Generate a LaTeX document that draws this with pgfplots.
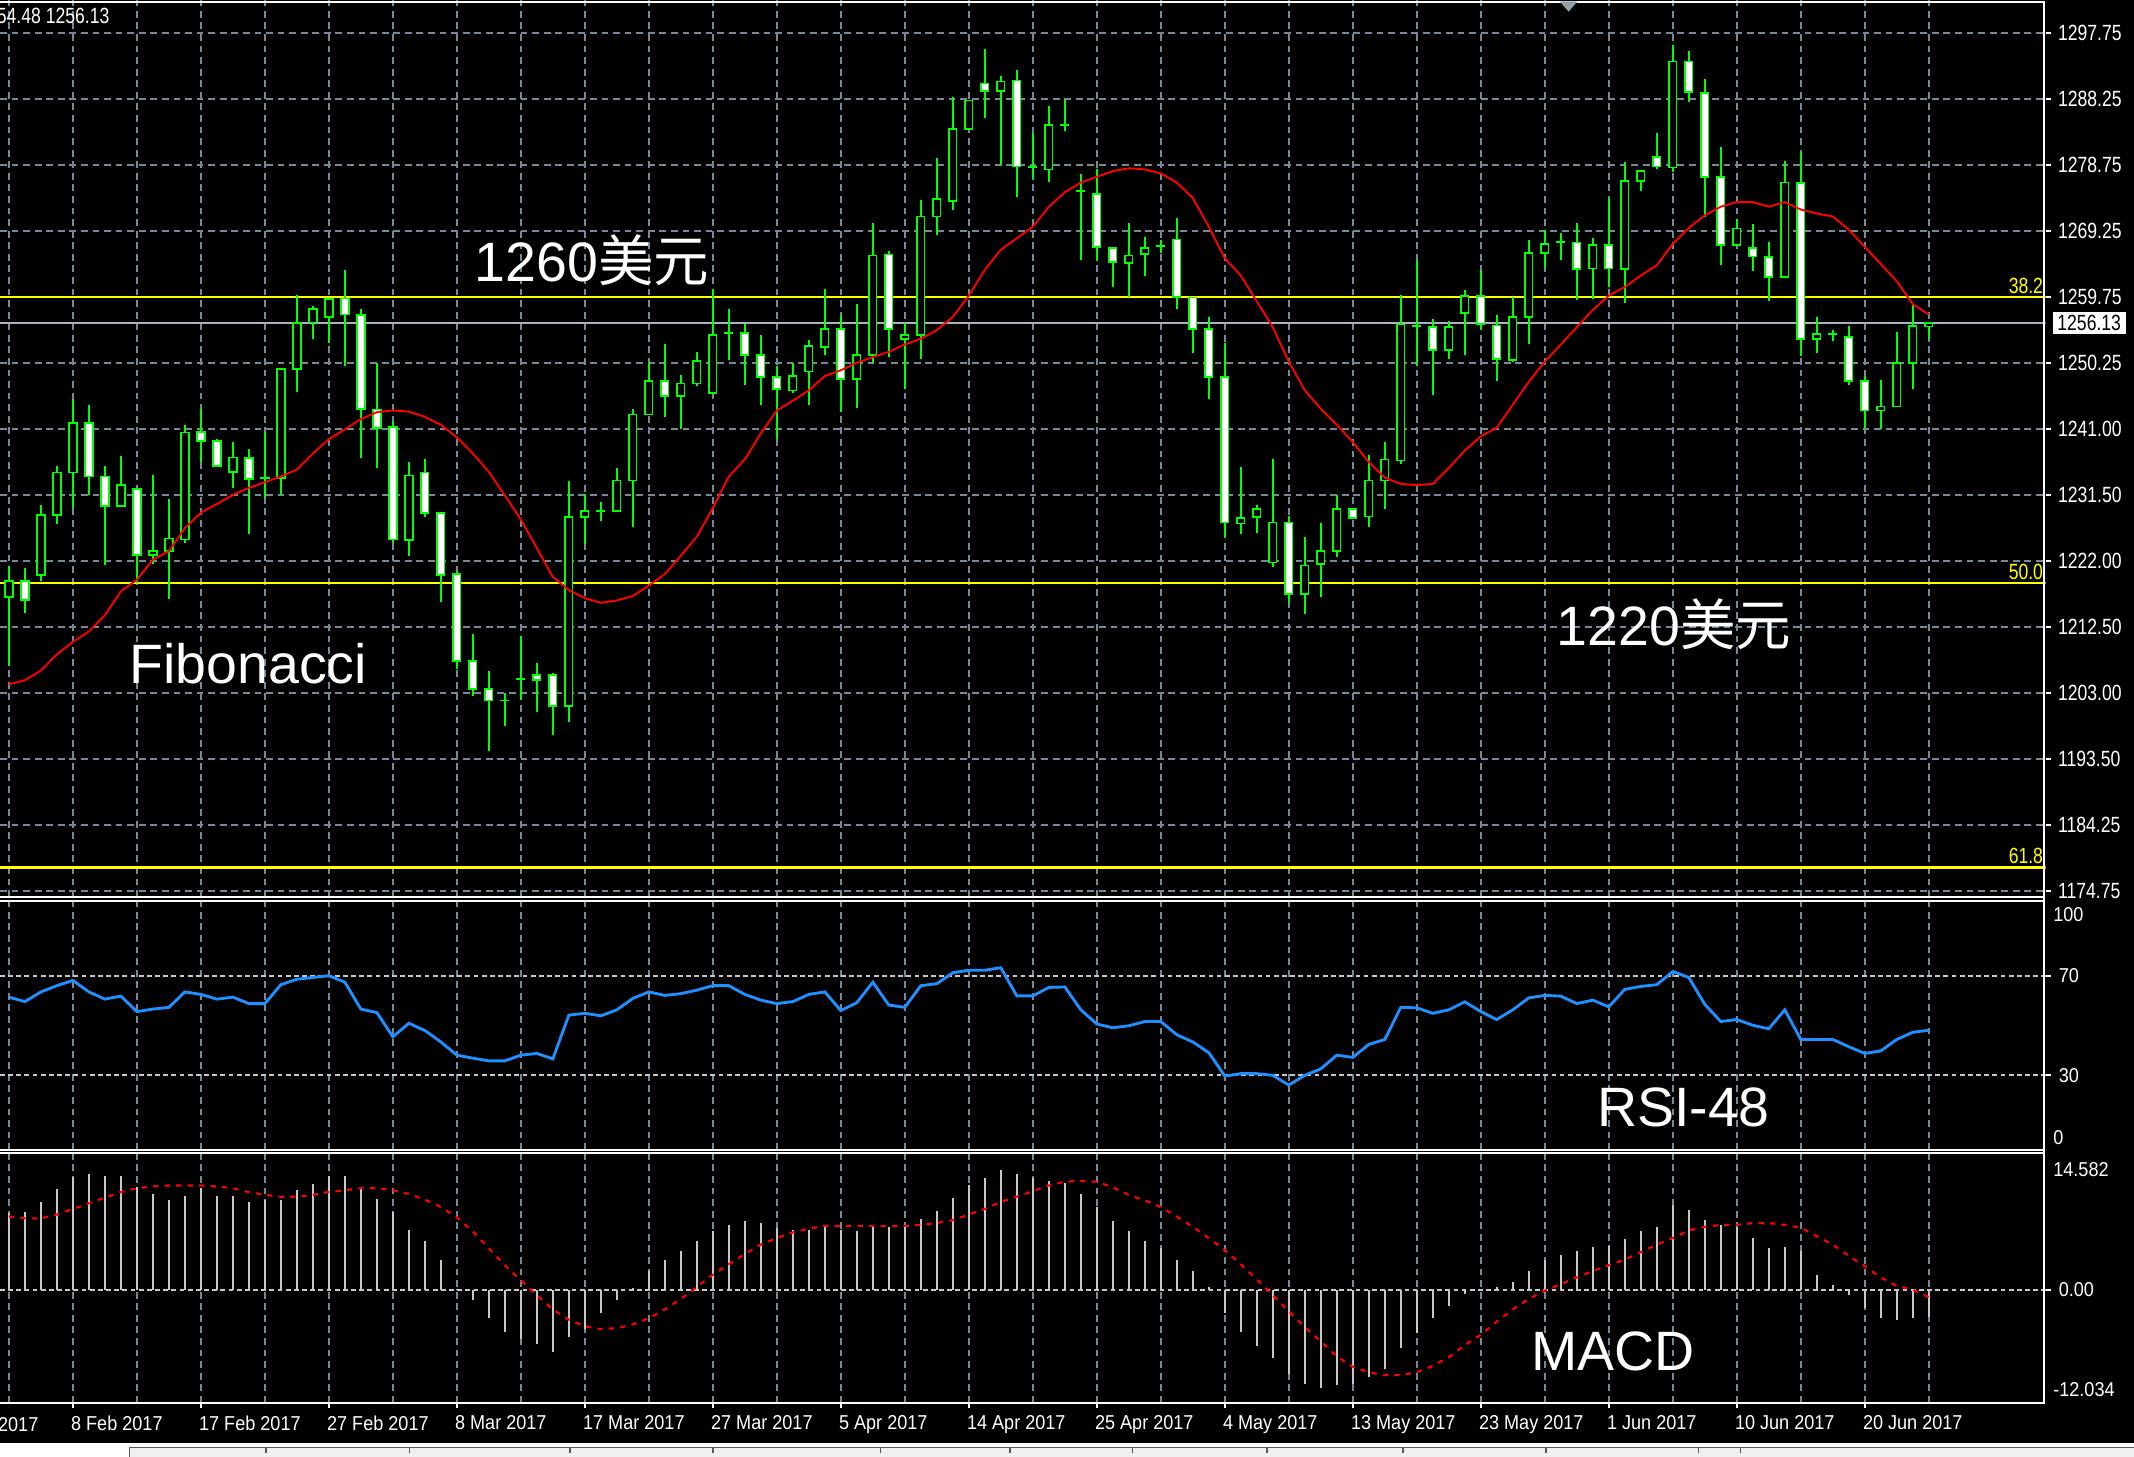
\documentclass[border=0pt]{standalone}
\usepackage{pgfplots}
\pgfplotsset{compat=1.18}
\usepackage{pgfplotstable}
\usepackage{fontspec}
\setmainfont{Liberation Sans}
\newfontfamily\cjk{Noto Sans CJK SC}
\newfontfamily\mtdate[FakeStretch=0.9]{Liberation Sans}
\newfontfamily\mtprice[FakeStretch=0.8]{Liberation Sans}
\newcommand\datefont{\mtdate\fontsize{4.2}{5}\selectfont}
\newcommand\pricefont{\mtprice\fontsize{4.6}{5.5}\selectfont}
\newcommand\bigfont{\fontsize{11.6}{13}\selectfont}

\definecolor{bull}{RGB}{0,255,0}
\definecolor{gridc}{RGB}{119,136,153}
\definecolor{lvl}{RGB}{200,200,200}
\definecolor{rsic}{RGB}{30,144,255}
\definecolor{fib}{RGB}{255,255,0}
\definecolor{pricec}{RGB}{170,180,190}
\definecolor{tabfill}{RGB}{240,240,240}
\definecolor{tabline}{RGB}{90,90,90}

% daily bars: index, open, high, low, close, moving average, RSI, MACD histogram, signal
\pgfplotstableread{
i o h l c ma rsi hist sig
0 1216.88 1221.40 1207.01 1219.18 1204.37 61.4 8.2 7.8
1 1219.18 1220.99 1214.57 1216.47 1204.95 59.6 8.3 7.6
2 1220.00 1230.04 1219.18 1228.64 1206.35 63.5 9.35 7.6
3 1228.64 1235.64 1227.41 1234.73 1208.65 66.0 10.7 8.0
4 1234.73 1245.26 1229.63 1241.81 1210.46 68.1 12.0 8.6
5 1241.81 1244.44 1231.52 1234.16 1211.94 63.5 12.3 9.2
6 1234.16 1235.64 1221.40 1229.88 1214.25 60.6 12.1 9.8
7 1229.88 1237.04 1229.88 1232.92 1217.70 61.8 12.1 10.4
8 1232.35 1232.35 1218.94 1222.88 1219.35 55.6 10.9 10.8
9 1222.88 1234.40 1221.65 1223.46 1222.23 56.6 10.2 11.0
10 1223.46 1230.87 1216.63 1225.27 1223.46 57.3 9.5 11.1
11 1225.11 1241.56 1224.70 1240.49 1226.75 63.5 10.0 11.1
12 1240.49 1243.78 1236.21 1239.26 1228.97 62.5 10.8 11.1
13 1239.26 1239.50 1235.64 1235.64 1230.21 60.6 10.0 11.0
14 1234.81 1239.09 1232.51 1236.87 1231.52 61.4 10.0 10.8
15 1236.87 1238.11 1225.93 1233.75 1232.51 58.8 9.35 10.4
16 1233.91 1240.49 1231.11 1233.91 1233.33 58.8 9.6 10.1
17 1233.91 1249.54 1231.52 1249.54 1234.16 66.4 9.6 9.9
18 1249.54 1260.23 1246.25 1256.12 1235.14 68.6 10.6 9.9
19 1256.20 1258.67 1253.90 1258.18 1237.45 69.3 11.3 10.1
20 1257.03 1259.66 1253.24 1259.66 1239.50 70.0 12.1 10.4
21 1259.66 1263.77 1250.03 1257.36 1240.90 67.4 12.1 10.6
22 1257.36 1258.18 1236.87 1243.78 1242.38 56.6 10.7 10.8
23 1243.78 1250.45 1235.39 1241.15 1243.37 55.2 9.7 10.8
24 1241.31 1242.14 1224.70 1225.11 1243.62 45.5 8.3 10.6
25 1225.11 1236.21 1222.80 1234.32 1243.45 50.9 6.4 10.2
26 1234.73 1236.62 1228.40 1228.97 1242.71 48.0 5.2 9.6
27 1228.97 1228.97 1216.22 1220.00 1241.56 43.4 3.2 8.8
28 1220.17 1220.58 1206.60 1207.67 1239.75 38.1 0.1 7.7
29 1207.67 1211.53 1202.73 1203.72 1237.45 36.9 -1.1 6.2
30 1203.72 1206.35 1194.83 1202.07 1234.81 35.8 -3.05 4.4
31 1202.07 1203.06 1198.37 1202.07 1231.44 35.8 -4.5 2.6
32 1205.11 1211.28 1202.07 1205.11 1227.99 38.1 -5.3 1.0
33 1205.77 1207.42 1200.43 1204.95 1223.87 38.8 -5.8 -0.6
34 1205.77 1206.02 1197.13 1201.25 1219.76 36.6 -6.6 -2.1
35 1201.25 1233.58 1199.03 1228.40 1217.87 54.2 -5.0 -3.2
36 1228.40 1231.69 1224.45 1229.22 1216.71 54.9 -4.2 -3.9
37 1229.22 1230.45 1227.74 1229.22 1216.06 53.9 -2.5 -4.2
38 1229.22 1235.39 1229.22 1233.58 1216.39 56.3 -1.1 -4.1
39 1233.58 1243.78 1226.92 1243.04 1217.04 60.9 0.2 -3.7
40 1243.04 1250.61 1243.04 1247.89 1218.53 63.5 2.0 -3.05
41 1247.89 1253.08 1242.63 1245.67 1220.17 62.1 3.2 -2.1
42 1245.67 1248.72 1240.98 1247.48 1222.80 62.8 4.1 -1.0
43 1247.48 1252.01 1247.15 1250.77 1225.52 64.2 5.2 0.3
44 1246.09 1261.06 1246.09 1254.48 1229.63 66.0 6.3 1.6
45 1254.72 1258.18 1250.86 1254.72 1234.16 66.0 6.9 2.7
46 1254.72 1255.96 1247.32 1251.60 1236.62 62.5 7.3 3.8
47 1251.60 1254.48 1244.44 1248.39 1240.33 60.2 7.1 4.8
48 1248.39 1250.03 1239.50 1246.74 1243.62 58.8 6.6 5.5
49 1246.50 1250.45 1246.09 1248.55 1245.02 59.6 6.4 6.1
50 1249.21 1253.65 1244.44 1252.83 1246.50 62.5 6.4 6.5
51 1252.67 1261.06 1251.60 1255.30 1248.55 63.5 6.8 6.8
52 1255.30 1257.36 1243.37 1248.14 1249.38 56.0 6.4 6.8
53 1248.14 1258.84 1244.03 1251.60 1250.45 59.2 6.3 6.8
54 1251.60 1270.52 1250.45 1265.83 1251.27 67.4 6.8 6.8
55 1265.99 1266.41 1251.27 1255.30 1252.01 58.2 6.7 6.8
56 1253.90 1256.12 1246.74 1254.48 1253.08 57.3 6.7 6.8
57 1254.48 1273.81 1251.02 1271.42 1253.90 66.0 7.5 6.9
58 1271.42 1279.82 1268.71 1273.89 1255.13 66.8 8.4 7.1
59 1273.65 1288.62 1272.41 1283.93 1257.03 71.2 9.8 7.4
60 1283.93 1288.04 1283.93 1288.04 1260.07 72.2 11.1 8.0
61 1290.51 1295.45 1285.57 1289.44 1263.77 72.2 11.9 8.6
62 1289.44 1291.58 1278.83 1290.76 1266.65 73.2 12.8 9.35
63 1290.92 1292.40 1274.22 1278.58 1268.30 61.9 12.3 9.9
64 1278.58 1283.35 1276.77 1278.58 1269.94 61.9 11.9 10.5
65 1278.17 1287.22 1276.36 1284.59 1272.82 65.3 11.6 11.1
66 1284.51 1288.29 1283.68 1284.51 1274.88 65.5 11.4 11.5
67 1275.04 1277.51 1265.25 1275.04 1276.28 56.3 10.2 11.6
68 1274.71 1278.17 1265.25 1267.06 1277.10 50.6 8.8 11.5
69 1266.90 1266.90 1261.31 1264.84 1277.92 49.1 7.3 10.9
70 1264.76 1270.52 1259.91 1265.83 1278.33 49.9 6.3 10.1
71 1266.08 1268.54 1262.95 1266.90 1278.17 51.6 5.2 9.5
72 1267.23 1268.05 1266.24 1267.23 1277.59 51.6 4.4 8.8
73 1268.13 1271.18 1258.18 1259.91 1276.28 46.3 3.2 7.8
74 1259.82 1259.82 1251.84 1255.30 1274.06 43.4 2.0 6.7
75 1255.30 1257.03 1245.26 1248.39 1269.94 39.1 0.3 5.5
76 1248.39 1253.33 1225.52 1227.57 1265.42 29.7 -2.5 4.2
77 1227.41 1235.55 1225.93 1228.23 1262.95 30.7 -4.5 2.7
78 1228.40 1230.04 1226.09 1229.47 1259.25 30.7 -6.0 1.1
79 1221.81 1236.62 1221.16 1227.57 1255.55 30.0 -7.25 -0.6
80 1227.57 1228.56 1216.06 1217.29 1250.61 26.1 -9.0 -2.3
81 1217.29 1225.52 1214.41 1221.40 1246.50 30.0 -10.0 -4.0
82 1221.57 1227.57 1216.88 1223.46 1243.86 32.6 -10.5 -5.5
83 1223.46 1231.52 1222.64 1229.47 1241.56 38.1 -10.2 -7.1
84 1229.47 1229.47 1228.23 1228.23 1239.09 37.2 -10.0 -8.2
85 1228.40 1237.20 1226.92 1233.58 1236.21 42.4 -9.35 -8.8
86 1233.58 1239.09 1229.47 1236.62 1233.99 44.4 -8.4 -9.1
87 1236.46 1260.23 1235.97 1255.96 1233.09 57.3 -6.2 -9.1
88 1255.79 1265.17 1250.03 1255.79 1232.92 57.1 -4.6 -8.8
89 1255.55 1256.78 1245.84 1252.26 1233.09 54.9 -3.05 -8.1
90 1252.26 1256.37 1251.02 1255.55 1235.39 56.3 -1.7 -7.2
91 1257.60 1260.89 1251.60 1260.07 1237.86 59.5 -0.5 -5.9
92 1260.07 1263.77 1255.13 1255.96 1239.91 55.6 0.1 -4.8
93 1255.79 1257.36 1247.89 1251.02 1241.15 52.4 0.3 -3.4
94 1250.86 1259.91 1250.61 1257.03 1244.44 56.3 0.8 -2.1
95 1257.03 1268.05 1253.08 1266.24 1247.73 61.1 2.0 -1.0
96 1266.24 1269.53 1264.02 1267.48 1250.61 62.1 3.2 -0.1
97 1267.72 1269.12 1265.17 1267.72 1253.08 61.8 3.7 0.6
98 1267.72 1270.52 1259.49 1263.94 1255.55 58.8 4.1 1.3
99 1263.94 1268.30 1259.66 1267.31 1258.01 60.2 4.5 2.0
100 1267.31 1274.06 1261.31 1263.94 1260.07 57.5 4.7 2.6
101 1263.94 1279.16 1259.08 1276.52 1261.31 64.5 5.4 3.2
102 1276.52 1277.92 1275.04 1277.92 1262.95 65.7 6.3 4.0
103 1279.98 1283.35 1278.17 1278.58 1264.43 66.4 6.7 4.8
104 1278.42 1296.02 1277.76 1293.64 1267.48 71.7 9.0 5.5
105 1293.64 1295.20 1287.88 1289.28 1269.78 69.3 8.5 6.3
106 1289.11 1291.17 1271.42 1277.10 1271.59 58.5 7.4 6.7
107 1277.10 1281.46 1264.43 1267.31 1272.82 51.6 6.9 6.9
108 1267.31 1271.01 1267.31 1269.70 1273.48 52.4 6.7 6.9
109 1266.90 1270.35 1263.61 1265.67 1273.48 50.1 5.5 7.1
110 1265.58 1267.72 1259.25 1262.79 1272.82 48.7 4.4 7.1
111 1262.79 1279.40 1262.54 1276.28 1273.48 56.3 4.5 6.9
112 1276.28 1280.64 1251.43 1253.90 1272.41 44.4 4.1 6.6
113 1253.90 1257.03 1251.84 1254.56 1271.84 44.4 1.6 5.7
114 1254.56 1255.13 1253.65 1254.56 1271.42 44.4 0.5 4.8
115 1254.15 1255.71 1247.32 1247.89 1269.53 41.5 -0.6 3.6
116 1247.89 1248.55 1241.15 1243.62 1267.06 38.8 -1.9 2.5
117 1243.62 1247.98 1240.98 1244.20 1264.60 39.8 -3.05 1.3
118 1244.20 1254.89 1244.20 1250.45 1262.13 44.4 -3.2 0.4
119 1250.45 1258.84 1246.66 1255.71 1258.84 47.3 -3.05 0.0
120 1255.71 1256.13 1253.90 1256.13 1257.36 48.1 -2.9 -0.8
}\bars

\pgfplotsset{
  mtpanel/.style={
    scale only axis, width=150.3mm,
    xmin=-0.556, xmax=127.3,
    axis line style={draw=none},
    xtick={4,12,...,116}, minor xtick={0,8,...,124},
    xmajorgrids, xminorgrids, ymajorgrids,
    grid style={gridc, dash pattern=on 0.5mm off 0.35mm, line width=0.35pt},
    minor tick length=0pt,
    ytick pos=right, yticklabel pos=right,
    tick align=outside, major tick length=0.4mm,
    tick style={white, line width=0.4pt},
    yticklabel style={white, anchor=west, inner sep=0pt, xshift=0.5mm},
    clip mode=individual,
  },
  candle/.style={draw=none, mark=none, forget plot,
    error bars/.cd, y dir=both, y explicit, error mark=none},
}

\begin{document}
\begin{tikzpicture}
\path[use as bounding box] (0,0) rectangle (156.8mm,-107mm);
\fill[black] (0,0) rectangle (156.8mm,-107mm);

% ---------------- price panel
\begin{axis}[mtpanel, at={(0mm,0mm)}, anchor=north west, height=65.9mm,
  ymin=1173.90, ymax=1302.44,
  xticklabels={}, xtick style={draw=none},
  ytick={1297.75,1288.29,1278.83,1269.37,1259.91,1250.45,1240.99,1231.53,1222.07,1212.61,1203.15,1193.69,1184.23,1174.77},
  yticklabels={1297.75,1288.25,1278.75,1269.25,1259.75,1250.25,1241.00,1231.50,1222.00,1212.50,1203.00,1193.50,1184.25,1174.75},
  yticklabel style={font=\pricefont, xshift=-0.05mm},
]
% Fibonacci levels and current price
\addplot[fib, line width=0.5pt, forget plot] coordinates {(-1,1259.9) (128,1259.9)};
\addplot[fib, line width=0.5pt, forget plot] coordinates {(-1,1218.9) (128,1218.9)};
\addplot[fib, line width=0.5pt, forget plot] coordinates {(-1,1178.1) (128,1178.1)};
\addplot[pricec, line width=0.4pt, forget plot] coordinates {(-1,1256.13) (128,1256.13)};
% wicks
\addplot[candle, error bar style={draw=bull, solid, line width=0.13mm}]
  table[x=i, y expr={(\thisrow{h}+\thisrow{l})/2}, y error expr={(\thisrow{h}-\thisrow{l})/2}] {\bars};
% bodies
\addplot[candle, error bar style={draw=bull, solid, line width=0.68mm}]
  table[x=i, y expr={(\thisrow{o}+\thisrow{c})/2}, y error expr={abs(\thisrow{c}-\thisrow{o})/2+0.12}] {\bars};
\addplot[candle, error bar style={draw=black, solid, line width=0.42mm}]
  table[x=i, y expr={(\thisrow{o}+\thisrow{c})/2}, y error expr={(\thisrow{c}>\thisrow{o})*max(abs(\thisrow{c}-\thisrow{o})/2-0.13,0)}] {\bars};
\addplot[candle, error bar style={draw=white, solid, line width=0.42mm}]
  table[x=i, y expr={(\thisrow{o}+\thisrow{c})/2}, y error expr={(\thisrow{c}<\thisrow{o})*max(abs(\thisrow{c}-\thisrow{o})/2-0.13,0)}] {\bars};
% moving average
\addplot[red, line width=0.4pt, mark=none] table[x=i, y=ma] {\bars};
\node[anchor=east, inner sep=0pt, fib, font=\pricefont] at (axis cs:127.2,1261.5) {38.2};
\node[anchor=east, inner sep=0pt, fib, font=\pricefont] at (axis cs:127.2,1220.5) {50.0};
\node[anchor=east, inner sep=0pt, fib, font=\pricefont] at (axis cs:127.2,1179.8) {61.8};
\end{axis}

% ---------------- RSI panel
\begin{axis}[mtpanel, at={(0mm,-66.2mm)}, anchor=north west, height=18.3mm,
  ymin=0, ymax=100,
  xticklabels={}, xtick style={draw=none},
  ytick={30,70}, yticklabels={30,70},
  y grid style={lvl, dash pattern=on 0.35mm off 0.25mm, line width=0.4pt},
  extra y ticks={94.7,5.2}, extra y tick labels={100,0},
  extra y tick style={grid=none, major tick length=0pt},
  yticklabel style={font=\datefont},
]
\addplot[rsic, line width=0.6pt, mark=none] table[x=i, y=rsi] {\bars};
\end{axis}

% ---------------- MACD panel
\begin{axis}[mtpanel, at={(0mm,-84.7mm)}, anchor=north west, height=18.36mm,
  ymin=-12.034, ymax=14.582,
  xticklabels={8 Feb 2017,17 Feb 2017,27 Feb 2017,8 Mar 2017,17 Mar 2017,27 Mar 2017,5 Apr 2017,14 Apr 2017,25 Apr 2017,4 May 2017,13 May 2017,23 May 2017,1 Jun 2017,10 Jun 2017,20 Jun 2017},
  xticklabel style={white, font=\datefont, anchor=north west, inner sep=0pt, xshift=-0.2mm, yshift=-0.5mm},
  xtick pos=bottom, major x tick style={white},
  ytick={0}, yticklabels={0.00},
  y grid style={lvl, dash pattern=on 0.35mm off 0.25mm, line width=0.4pt},
  extra y ticks={12.74,-10.64}, extra y tick labels={14.582,-12.034},
  extra y tick style={grid=none, major tick length=0pt},
  yticklabel style={font=\datefont},
]
\addplot[ycomb, lvl, line width=0.4pt, mark=none] table[x=i, y=hist] {\bars};
\addplot[red, line width=0.45pt, dash pattern=on 1.1pt off 1.3pt, mark=none] table[x=i, y=sig] {\bars};
% the label of 30 Jan 2017 is cut by the left edge: only its year shows
\node[anchor=north east, inner sep=0pt, white, font=\datefont, yshift=-1.05mm] at (axis cs:1.9,-12.034) {2017};
\end{axis}

% ---------------- frames
\draw[white, line width=0.45pt] (0,-0.12mm) -- (150.2mm,-0.12mm) -- (150.2mm,-103.06mm) -- (0,-103.06mm);
\draw[white, line width=0.45pt] (0,-65.9mm) -- (150.2mm,-65.9mm);
\draw[white, line width=0.45pt] (0,-66.2mm) -- (150.2mm,-66.2mm);
\draw[white, line width=0.45pt] (0,-84.5mm) -- (150.2mm,-84.5mm);
\draw[white, line width=0.45pt] (0,-84.7mm) -- (150.2mm,-84.7mm);

% ---------------- overlay texts
\node[anchor=base west, inner sep=0pt, white, font=\bigfont] at (34.8mm,-20.66mm) {1260{\cjk 美元}};
\node[anchor=base west, inner sep=0pt, white, font=\bigfont] at (9.45mm,-50.2mm) {Fibonacci};
\node[anchor=base west, inner sep=0pt, white, font=\bigfont] at (114.3mm,-47.45mm) {1220{\cjk 美元}};
\node[anchor=base west, inner sep=0pt, white, font=\bigfont] at (117.28mm,-82.77mm) {RSI-48};
\node[anchor=base west, inner sep=0pt, white, font=\bigfont] at (112.43mm,-100.67mm) {MACD};

% info line, current price tag, shift marker
\node[anchor=west, inner sep=0pt, white, font=\pricefont] at (-0.3mm,-1.2mm) {54.48 1256.13};
\node[anchor=west, fill=white, text=black, inner xsep=0.35mm, inner ysep=0.25mm, font=\pricefont] at (150.75mm,-23.75mm) {1256.13};
\fill[gridc!80!white] (114.6mm,-0.1mm) -- (115.9mm,-0.1mm) -- (115.26mm,-0.86mm) -- cycle;

% scroll strip at the bottom
\fill[white] (0,-106.05mm) rectangle (156.8mm,-107mm);
\filldraw[fill=tabfill, draw=tabline, line width=0.3pt]
  (9.53mm,-106.35mm) rectangle (157.5mm,-107.5mm);
\foreach \x in {19.55,30.08,41.87,52.4,64.68,74.2,83.2,93.1,103.1,113.6,124.8,127.9}
  \draw[tabline, line width=0.3pt] (\x mm,-106.35mm) -- (\x mm,-106.75mm);
\end{tikzpicture}
\end{document}
